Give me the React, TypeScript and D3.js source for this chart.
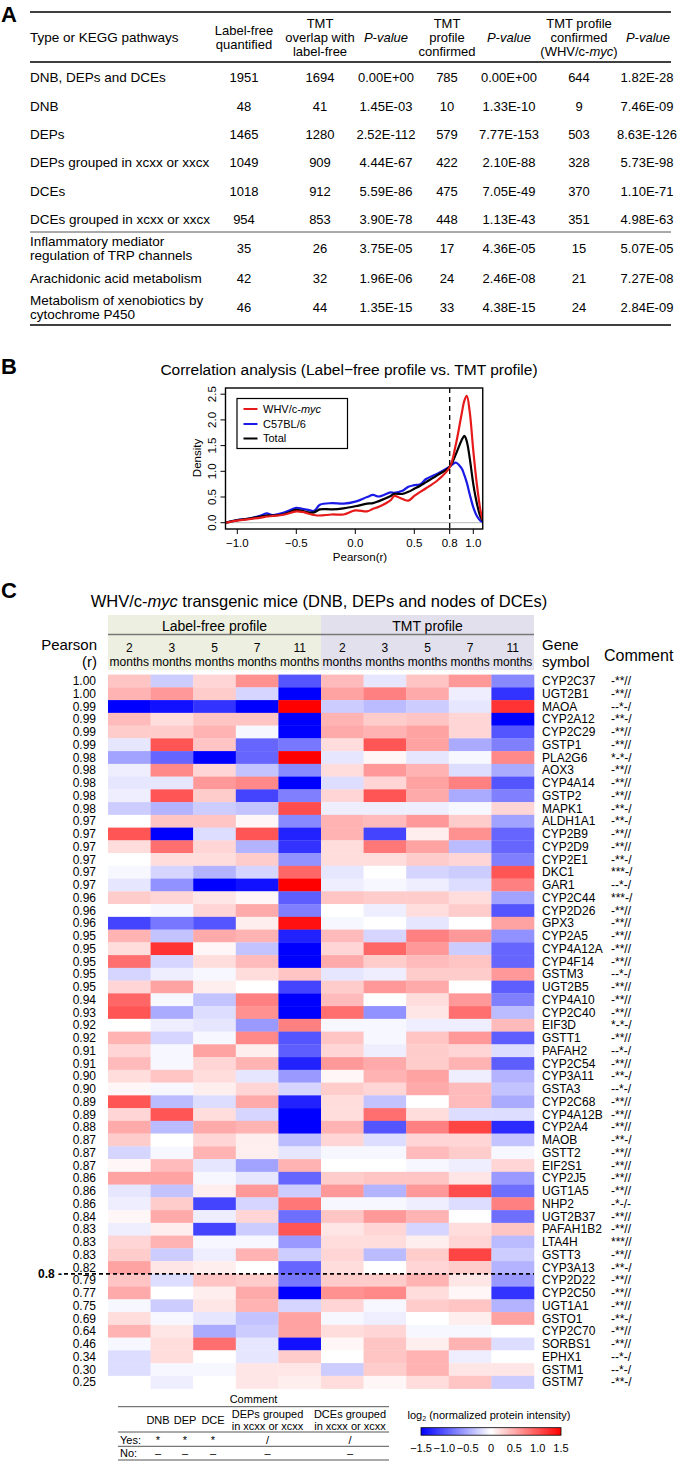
import React from 'react';
import * as d3 from 'd3';

// ---- panel A: table ----
const pathways = [
  ['DNB, DEPs and DCEs'],
  ['DNB'],
  ['DEPs'],
  ['DEPs grouped in xcxx or xxcx'],
  ['DCEs'],
  ['DCEs grouped in xcxx or xxcx'],
  ['Inflammatory mediator', 'regulation of TRP channels'],
  ['Arachidonic acid metabolism'],
  ['Metabolism of xenobiotics by', 'cytochrome P450'],
];
const labelFreeQuantified = ['1951', '48', '1465', '1049', '1018', '954', '35', '42', '46'];
const tmtOverlap = ['1694', '41', '1280', '909', '912', '853', '26', '32', '44'];
const pOverlap = ['0.00E+00', '1.45E-03', '2.52E-112', '4.44E-67', '5.59E-86', '3.90E-78', '3.75E-05', '1.96E-06', '1.35E-15'];
const tmtConfirmed = ['785', '10', '579', '422', '475', '448', '17', '24', '33'];
const pConfirmed = ['0.00E+00', '1.33E-10', '7.77E-153', '2.10E-88', '7.05E-49', '1.13E-43', '4.36E-05', '2.46E-08', '4.38E-15'];
const tmtWhv = ['644', '9', '503', '328', '370', '351', '15', '21', '24'];
const pWhv = ['1.82E-28', '7.46E-09', '8.63E-126', '5.73E-98', '1.10E-71', '4.98E-63', '5.07E-05', '7.27E-08', '2.84E-09'];

// ---- panel B: density ----
const pearsonGrid = [-1.1, -1.0, -0.9, -0.8, -0.75, -0.7, -0.6, -0.5, -0.45, -0.4, -0.35, -0.3, -0.2, -0.1, 0, 0.1, 0.15, 0.2, 0.3, 0.33, 0.4, 0.45, 0.5, 0.55, 0.6, 0.7, 0.8, 0.85, 0.9, 0.925, 0.945, 0.97, 1.0, 1.03, 1.06, 1.08];
const densityWhv = [0.0, 0.04, 0.07, 0.1, 0.12, 0.13, 0.16, 0.22, 0.21, 0.18, 0.15, 0.14, 0.16, 0.16, 0.24, 0.22, 0.27, 0.31, 0.44, 0.52, 0.46, 0.43, 0.52, 0.6, 0.67, 0.83, 1.08, 1.5, 2.1, 2.38, 2.47, 2.15, 1.4, 0.75, 0.25, 0.05];
const densityC57 = [0.0, 0.05, 0.08, 0.14, 0.18, 0.15, 0.2, 0.29, 0.27, 0.25, 0.23, 0.35, 0.38, 0.37, 0.41, 0.5, 0.54, 0.51, 0.59, 0.58, 0.62, 0.7, 0.73, 0.75, 0.85, 0.96, 1.09, 1.17, 1.06, 0.92, 0.78, 0.55, 0.3, 0.13, 0.04, 0.01];
const densityTotal = [0.0, 0.05, 0.08, 0.12, 0.14, 0.14, 0.17, 0.25, 0.23, 0.2, 0.2, 0.26, 0.26, 0.28, 0.32, 0.37, 0.38, 0.42, 0.52, 0.56, 0.56, 0.6, 0.66, 0.72, 0.79, 0.93, 1.09, 1.32, 1.6, 1.69, 1.58, 1.25, 0.75, 0.38, 0.12, 0.04];
const densityXTicks = [-1.0, -0.5, 0.0, 0.5, 0.8, 1.0];
const densityYTicks = [0, 0.5, 1.0, 1.5, 2.0, 2.5];

// ---- panel C: heatmap ----
const monthsLabels = ['2', '3', '5', '7', '11'];
const genes = ['CYP2C37', 'UGT2B1', 'MAOA', 'CYP2A12', 'CYP2C29', 'GSTP1', 'PLA2G6', 'AOX3', 'CYP4A14', 'GSTP2', 'MAPK1', 'ALDH1A1', 'CYP2B9', 'CYP2D9', 'CYP2E1', 'DKC1', 'GAR1', 'CYP2C44', 'CYP2D26', 'GPX3', 'CYP2A5', 'CYP4A12A', 'CYP4F14', 'GSTM3', 'UGT2B5', 'CYP4A10', 'CYP2C40', 'EIF3D', 'GSTT1', 'PAFAH2', 'CYP2C54', 'CYP3A11', 'GSTA3', 'CYP2C68', 'CYP4A12B', 'CYP2A4', 'MAOB', 'GSTT2', 'EIF2S1', 'CYP2J5', 'UGT1A5', 'NHP2', 'UGT2B37', 'PAFAH1B2', 'LTA4H', 'GSTT3', 'CYP3A13', 'CYP2D22', 'CYP2C50', 'UGT1A1', 'GSTO1', 'CYP2C70', 'SORBS1', 'EPHX1', 'GSTM1', 'GSTM7'];
const pearsonR = ['1.00', '1.00', '0.99', '0.99', '0.99', '0.99', '0.98', '0.98', '0.98', '0.98', '0.98', '0.97', '0.97', '0.97', '0.97', '0.97', '0.97', '0.96', '0.96', '0.96', '0.95', '0.95', '0.95', '0.95', '0.95', '0.94', '0.93', '0.92', '0.92', '0.91', '0.91', '0.90', '0.90', '0.89', '0.89', '0.88', '0.87', '0.87', '0.87', '0.86', '0.86', '0.86', '0.84', '0.83', '0.83', '0.83', '0.82', '0.79', '0.77', '0.75', '0.69', '0.64', '0.46', '0.34', '0.30', '0.25'];
const comments = ['-**//', '-**//', '--*-/', '-**-/', '-**//', '-**//', '*-*-/', '-**//', '-**//', '-**//', '-**-/', '-**-/', '-**//', '-**//', '-**-/', '***-/', '--*-/', '***-/', '-**//', '-**//', '-**//', '-**//', '-**//', '--*-/', '-**//', '-**//', '-**//', '*-*-/', '-**//', '--*-/', '-**//', '-**-/', '--*-/', '-**//', '-**//', '-**//', '-**-/', '-**//', '-**//', '-**//', '-**//', '-*-/-', '-**//', '-**//', '***//', '-**//', '-**-/', '-**//', '-**//', '-**//', '-**-/', '-**//', '-**//', '--*-/', '--*-/', '-**-/'];
// log2 normalized intensity: 5 label-free months then 5 TMT months
const intensity = [
  [0.35, -0.3, 0.25, 0.65, -1.0, 0.4, -0.15, 0.35, 0.6, -0.7],
  [0.45, 0.6, 0.3, -0.25, -1.5, 0.55, 0.75, 0.5, -0.1, -1.2],
  [-1.5, -1.4, -1.2, -1.5, 1.5, -0.3, -0.4, -0.3, -0.15, 1.2],
  [0.4, 0.2, 0.35, 0.35, -1.5, 0.45, 0.3, 0.35, 0.25, -1.5],
  [0.3, 0.3, 0.45, -0.05, -1.5, 0.5, 0.45, 0.55, 0.25, -1.0],
  [-0.15, 1.0, 0.35, -0.9, -0.8, 0.2, 1.0, 0.55, -0.5, -0.75],
  [-0.55, -0.9, -1.5, -0.9, 1.5, -0.15, 0.05, -0.15, -0.05, 0.7],
  [-0.1, 0.7, 0.25, -0.35, -0.7, 0.2, 0.6, 0.45, -0.2, -0.5],
  [-0.15, -0.15, 0.6, 0.7, -1.5, -0.2, 0.25, 0.55, 0.75, -1.0],
  [-0.1, 1.0, 0.3, -1.1, -0.75, 0.25, 1.0, 0.5, -0.5, -0.75],
  [-0.3, -0.45, -0.3, -0.35, 1.05, -0.1, -0.1, -0.1, -0.05, 0.25],
  [0.0, 0.35, 0.35, 0.05, -0.7, 0.45, 0.4, 0.6, 0.3, -0.55],
  [1.0, -1.5, -0.2, 1.0, -1.3, 0.45, -1.1, 0.1, 0.65, -0.9],
  [0.2, 0.85, 0.25, -0.45, -1.2, 0.2, 0.8, 0.55, -0.4, -0.9],
  [0.0, 0.2, 0.2, 0.3, -0.65, 0.2, 0.2, 0.3, 0.25, -0.75],
  [-0.05, -0.25, -0.45, -0.25, 0.9, -0.15, 0.0, -0.25, -0.3, 1.0],
  [-0.15, -0.65, -1.5, -1.4, 1.5, -0.1, -0.05, -0.1, -0.2, 0.75],
  [0.3, 0.25, 0.15, 0.05, -0.95, 0.35, 0.3, 0.3, 0.2, -0.55],
  [0.0, -0.05, 0.25, 0.5, -0.75, 0.0, -0.1, 0.2, 0.3, -1.0],
  [-1.1, -0.8, -1.0, 0.1, 1.4, -0.05, 0.0, -0.15, 0.0, 0.55],
  [0.45, -0.35, 0.5, 0.45, -1.3, 0.4, -0.25, 0.75, 0.6, -0.65],
  [0.2, 1.2, 0.05, -0.35, -1.5, 0.25, 0.9, 0.6, -0.3, -0.9],
  [0.85, -0.25, 0.2, 0.4, -1.5, 0.5, 0.3, 0.4, 0.35, -0.9],
  [-0.25, -0.1, -0.05, 0.2, 0.35, -0.15, -0.1, 0.3, 0.3, 0.6],
  [0.25, 0.55, 0.1, 0.0, -1.1, 0.3, 0.6, 0.5, 0.0, -0.95],
  [0.9, -0.05, -0.35, 0.75, -1.5, 0.4, 0.0, 0.2, 0.6, -0.75],
  [1.0, -0.5, -0.2, 0.65, -1.5, 0.85, -0.65, 0.15, 0.85, -0.4],
  [0.0, -0.1, -0.15, -0.6, 0.75, -0.05, -0.05, -0.1, -0.1, 0.4],
  [0.45, -0.25, -0.05, 0.7, -1.0, 0.35, -0.05, 0.35, 0.6, -0.95],
  [0.25, -0.05, 0.55, 0.1, -0.95, 0.25, -0.1, 0.3, 0.25, -0.2],
  [0.4, -0.05, 0.25, 0.45, -1.3, 0.6, 0.5, 0.3, 0.45, -0.95],
  [0.2, 0.35, 0.2, -0.15, -0.6, 0.05, 0.45, 0.55, -0.1, -0.45],
  [0.05, -0.05, 0.1, 0.25, -0.25, 0.3, 0.25, 0.5, 0.4, -0.35],
  [1.0, -0.4, -0.2, 0.5, -1.3, 0.2, -0.35, 0.0, 0.4, -0.5],
  [0.25, 1.0, 0.2, -0.25, -1.5, 0.2, 0.85, 0.2, -0.2, -0.2],
  [0.5, -0.4, 0.5, 0.45, -1.5, 0.45, -1.0, 0.75, 1.1, -1.25],
  [0.3, 0.0, 0.25, 0.1, -0.4, 0.25, -0.2, 0.25, 0.25, -0.35],
  [-0.25, -0.05, 0.45, 0.1, -0.15, -0.05, -0.05, 0.4, 0.3, -0.05],
  [0.05, 0.4, -0.15, -0.55, 0.45, 0.0, 0.0, -0.05, -0.1, 0.25],
  [0.55, 0.55, -0.05, -0.15, -0.9, 0.3, 0.35, 0.35, 0.15, -0.6],
  [-0.15, -0.35, 0.1, 0.6, -0.3, 0.6, -0.45, 0.6, 1.05, -0.85],
  [-0.1, 0.3, -1.1, -0.25, 0.8, -0.05, -0.05, -0.1, -0.2, 0.75],
  [0.05, 0.5, -0.1, 0.25, -0.85, 0.35, 0.6, 0.45, 0.0, -0.85],
  [-0.1, 0.1, -1.1, -0.3, 1.0, 0.15, 0.25, -0.25, 0.2, 0.35],
  [0.25, 0.45, -0.05, -0.05, -0.6, 0.2, 0.2, 0.1, 0.25, -0.4],
  [0.3, -0.3, -0.1, 0.45, -0.3, 0.25, -0.4, 0.3, 1.1, -0.3],
  [0.55, 0.15, 0.1, 0.0, -0.9, 0.2, 0.0, 0.25, 0.3, -0.45],
  [0.35, -0.2, 0.35, 0.3, -0.8, 0.3, 0.3, 0.45, 0.15, -0.6],
  [0.5, 0.0, 0.1, 0.5, -1.5, 0.65, 0.7, 0.2, 0.05, -1.2],
  [-0.05, -0.3, 0.15, 0.45, -0.25, 0.25, -0.05, 0.3, 0.35, -0.45],
  [0.2, -0.05, -0.15, -0.35, 0.55, -0.05, -0.1, 0.0, 0.1, 0.55],
  [0.45, 0.15, -0.5, -0.3, 0.55, 0.2, 0.25, -0.05, -0.05, 0.0],
  [-0.05, 0.2, 0.85, -0.15, -1.4, 0.05, 0.35, 0.1, 0.45, -0.2],
  [-0.2, 0.2, 0.0, -0.15, 0.3, 0.0, 0.35, 0.45, -0.1, 0.0],
  [-0.2, -0.05, -0.05, 0.15, 0.15, -0.3, 0.3, 0.45, 0.15, 0.15],
  [0.0, -0.1, 0.0, 0.15, 0.1, 0.2, 0.05, 0.2, 0.35, -0.3],
];
const colorTicks = [-1.5, -1.0, -0.5, 0, 0.5, 1.0, 1.5];
const commentCols = ['DNB', 'DEP', 'DCE'];

const FONT = 'Liberation Sans, Arial, Helvetica, sans-serif';
const fmtTick = (v: number) => (v < 0 ? '\u2212' : '') + Math.abs(v).toFixed(1);

function TableA() {
  const colX = [244, 320, 386, 447, 509, 579, 647];
  const rowY = [77, 106, 134, 162, 191, 219, 248, 278, 307];
  const cols = [labelFreeQuantified, tmtOverlap, pOverlap, tmtConfirmed, pConfirmed, tmtWhv, pWhv];
  const L = 30, R = 671;
  return (
    <g fontSize={13}>
      <text x={1} y={22} fontSize={22} fontWeight="bold">A</text>
      <line x1={L} x2={R} y1={12} y2={12} stroke="#000" strokeWidth={1.6} />
      <text x={L} y={37} dy="0.35em" fontSize={13.5}>Type or KEGG pathways</text>
      <text x={colX[0]} textAnchor="middle">
        <tspan x={colX[0]} y={30} dy="0.35em">Label-free</tspan>
        <tspan x={colX[0]} y={44} dy="0.35em">quantified</tspan>
      </text>
      <text textAnchor="middle">
        <tspan x={colX[1]} y={23} dy="0.35em">TMT</tspan>
        <tspan x={colX[1]} y={37} dy="0.35em">overlap with</tspan>
        <tspan x={colX[1]} y={51} dy="0.35em">label-free</tspan>
      </text>
      {[colX[2], colX[4], colX[6]].map((x, i) => (
        <text key={i} x={x + (i === 2 ? 1 : 0)} y={37} dy="0.35em" textAnchor="middle" fontStyle="italic">P-value</text>
      ))}
      <text textAnchor="middle">
        <tspan x={colX[3]} y={23} dy="0.35em">TMT</tspan>
        <tspan x={colX[3]} y={37} dy="0.35em">profile</tspan>
        <tspan x={colX[3]} y={51} dy="0.35em">confirmed</tspan>
      </text>
      <text textAnchor="middle">
        <tspan x={colX[5]} y={23} dy="0.35em">TMT profile</tspan>
        <tspan x={colX[5]} y={37} dy="0.35em">confirmed</tspan>
      </text>
      <text x={colX[5]} y={51} dy="0.35em" textAnchor="middle">
        (WHV/c-<tspan fontStyle="italic">myc</tspan>)
      </text>
      <line x1={L} x2={R} y1={62} y2={62} stroke="#000" strokeWidth={1.3} />
      {pathways.map((p, i) => (
        <g key={i}>
          {p.length === 1 ? (
            <text x={L} y={rowY[i]} dy="0.35em" fontSize={13.5}>{p[0]}</text>
          ) : (
            <text fontSize={13.5}>
              <tspan x={L} y={rowY[i] - 7} dy="0.35em">{p[0]}</tspan>
              <tspan x={L} y={rowY[i] + 7} dy="0.35em">{p[1]}</tspan>
            </text>
          )}
          {cols.map((c, j) => (
            <text key={j} x={colX[j]} y={rowY[i]} dy="0.35em" textAnchor="middle">{c[i]}</text>
          ))}
        </g>
      ))}
      <line x1={L} x2={R} y1={232} y2={232} stroke="#555" strokeWidth={1} />
      <line x1={L} x2={R} y1={325} y2={325} stroke="#000" strokeWidth={1.5} />
    </g>
  );
}

function DensityB() {
  const x = d3.scaleLinear().domain([-1.0, 1.0]).range([237.3, 473.3]);
  const y = d3.scaleLinear().domain([0, 2.5]).range([522.7, 394.2]);
  const box = { x0: x(-1.1), x1: x(1.08), y0: 388, y1: 529 };
  const line = d3
    .line<number>()
    .x((_, i) => x(pearsonGrid[i]))
    .y((d) => y(d))
    .curve(d3.curveCatmullRom.alpha(0.5));
  const series = [
    { name: 'C57BL/6', vals: densityC57, color: '#1a1ae6' },
    { name: 'Total', vals: densityTotal, color: '#000' },
    { name: 'WHV', vals: densityWhv, color: '#e61a1a' },
  ];
  return (
    <g fontSize={11.5}>
      <text x={1} y={374} fontSize={22} fontWeight="bold">B</text>
      <text x={349} y={370} dy="0.35em" textAnchor="middle" fontSize={15.5}>
        Correlation analysis (Label{'\u2212'}free profile vs. TMT profile)
      </text>
      <defs>
        <clipPath id="dclip">
          <rect x={box.x0} y={box.y0} width={box.x1 - box.x0} height={box.y1 - box.y0} />
        </clipPath>
      </defs>
      <line x1={box.x0} x2={box.x1} y1={y(0)} y2={y(0)} stroke="#bbb" strokeWidth={1} />
      <g clipPath="url(#dclip)">
        {series.map((s) => (
          <path key={s.name} d={line(s.vals) || ''} fill="none" stroke={s.color} strokeWidth={2.2} />
        ))}
      </g>
      <line x1={x(0.8)} x2={x(0.8)} y1={box.y0} y2={box.y1} stroke="#000" strokeWidth={1.3} strokeDasharray="5,4" />
      <rect x={box.x0} y={box.y0} width={box.x1 - box.x0} height={box.y1 - box.y0} fill="none" stroke="#000" strokeWidth={1.4} />
      {densityXTicks.map((t) => (
        <g key={t}>
          <line x1={x(t)} x2={x(t)} y1={box.y1} y2={box.y1 + 5} stroke="#000" />
          <text x={x(t)} y={543} dy="0.35em" textAnchor="middle">{fmtTick(t)}</text>
        </g>
      ))}
      {densityYTicks.map((t) => (
        <g key={t}>
          <line x1={box.x0 - 5} x2={box.x0} y1={y(t)} y2={y(t)} stroke="#000" />
          <text transform={`translate(212,${y(t)}) rotate(-90)`} dy="0.35em" textAnchor="middle">{t.toFixed(1)}</text>
        </g>
      ))}
      <text x={360} y={557} dy="0.35em" textAnchor="middle">Pearson(r)</text>
      <text transform="translate(197,458) rotate(-90)" dy="0.35em" textAnchor="middle">Density</text>
      <rect x={237} y={398.5} width={110.5} height={50} fill="#fff" stroke="#000" strokeWidth={1.2} />
      {[
        { c: '#e61a1a', y: 409 },
        { c: '#1a1ae6', y: 424 },
        { c: '#000', y: 438.5 },
      ].map((e, i) => (
        <g key={i}>
          <line x1={243.5} x2={257.5} y1={e.y} y2={e.y} stroke={e.c} strokeWidth={2} />
          <text x={263} y={e.y} dy="0.35em" fontSize={11}>
            {i === 0 ? (
              <>
                WHV/c-<tspan fontStyle="italic">myc</tspan>
              </>
            ) : i === 1 ? 'C57BL/6' : 'Total'}
          </text>
        </g>
      ))}
    </g>
  );
}

function HeatmapC() {
  const left = 108, right = 534, top = 674.6, rowH = 12.75;
  const x = d3.scaleBand<number>().domain(d3.range(10)).range([left, right]);
  const y = d3.scaleBand<string>().domain(genes).range([top, top + rowH * genes.length]);
  const color = d3
    .scaleLinear<string>()
    .domain([-1.5, 0, 1.5])
    .range(['#0000ff', '#ffffff', '#ff0000'])
    .clamp(true);
  const mid = (left + right) / 2;
  const cutY = y('CYP2D22') as number;
  const cbX = d3.scaleLinear().domain([-1.5, 1.5]).range([421, 561]);
  const legX = [158, 185, 213, 267.5, 350];
  return (
    <g>
      <text x={1} y={598} fontSize={22} fontWeight="bold">C</text>
      <text x={319} y={601} dy="0.35em" textAnchor="middle" fontSize={16.5}>
        WHV/c-<tspan fontStyle="italic">myc</tspan> transgenic mice (DNB, DEPs and nodes of DCEs)
      </text>
      <rect x={left} y={615} width={mid - left} height={55} fill="#edf0e1" />
      <rect x={mid} y={615} width={right - mid} height={55} fill="#e3e0ed" />
      <text x={(left + mid) / 2} y={626} dy="0.35em" textAnchor="middle" fontSize={14}>Label-free profile</text>
      <text x={(mid + right) / 2} y={626} dy="0.35em" textAnchor="middle" fontSize={14}>TMT profile</text>
      <line x1={left} x2={right} y1={634.5} y2={634.5} stroke="#777" strokeWidth={1.5} />
      {d3.range(10).map((i) => (
        <text key={i} textAnchor="middle" fontSize={12}>
          <tspan x={(x(i) as number) + x.bandwidth() / 2} y={648} dy="0.35em">{monthsLabels[i % 5]}</tspan>
          <tspan x={(x(i) as number) + x.bandwidth() / 2} y={662} dy="0.35em">months</tspan>
        </text>
      ))}
      <text textAnchor="end" fontSize={15}>
        <tspan x={97} y={645} dy="0.35em">Pearson</tspan>
        <tspan x={97} y={662} dy="0.35em">(r)</tspan>
      </text>
      <text fontSize={15}>
        <tspan x={542} y={645} dy="0.35em">Gene</tspan>
        <tspan x={542} y={662} dy="0.35em">symbol</tspan>
      </text>
      <text x={604} y={655} dy="0.35em" fontSize={16}>Comment</text>
      {intensity.map((row, r) =>
        row.map((v, c) => (
          <rect
            key={`${r}-${c}`}
            x={x(c)}
            y={y(genes[r])}
            width={x.bandwidth() + 0.3}
            height={y.bandwidth() + 0.3}
            fill={color(v)}
          />
        ))
      )}
      {genes.map((g, r) => {
        const cy = (y(g) as number) + y.bandwidth() / 2;
        return (
          <g key={g} fontSize={12}>
            <text x={96} y={cy} dy="0.35em" textAnchor="end">{pearsonR[r]}</text>
            <text x={542} y={cy} dy="0.35em">{g}</text>
            <text x={611} y={cy} dy="0.35em">{comments[r]}</text>
          </g>
        );
      })}
      <text x={62} y={cutY} dy="0.35em" textAnchor="end" fontSize={12} fontWeight="bold">0.8 -</text>
      <line x1={64} x2={right} y1={cutY} y2={cutY} stroke="#000" strokeWidth={1.6} strokeDasharray="4,3" />

      {/* comment legend */}
      <g fontSize={11}>
        <text x={253.5} y={1399} dy="0.35em" textAnchor="middle">Comment</text>
        <line x1={118} x2={389} y1={1406.7} y2={1406.7} stroke="#555" strokeWidth={1} />
        {commentCols.map((c, i) => (
          <text key={c} x={legX[i]} y={1420} dy="0.35em" textAnchor="middle">{c}</text>
        ))}
        <text textAnchor="middle">
          <tspan x={legX[3]} y={1414} dy="0.35em">DEPs grouped</tspan>
          <tspan x={legX[3]} y={1426} dy="0.35em">in xcxx or xcxx</tspan>
        </text>
        <text textAnchor="middle">
          <tspan x={legX[4]} y={1414} dy="0.35em">DCEs grouped</tspan>
          <tspan x={legX[4]} y={1426} dy="0.35em">in xcxx or xcxx</tspan>
        </text>
        <line x1={118} x2={389} y1={1432} y2={1432} stroke="#555" strokeWidth={1} />
        <text x={120} y={1440.5} dy="0.35em">Yes:</text>
        {legX.map((lx, i) => (
          <text key={i} x={lx} y={1440.5} dy="0.35em" textAnchor="middle">{i < 3 ? '*' : '/'}</text>
        ))}
        <line x1={118} x2={389} y1={1446.3} y2={1446.3} stroke="#555" strokeWidth={1} />
        <text x={120} y={1453.3} dy="0.35em">No:</text>
        {legX.map((lx, i) => (
          <text key={i} x={lx} y={1453.3} dy="0.35em" textAnchor="middle">{'\u2013'}</text>
        ))}
        <line x1={118} x2={389} y1={1460} y2={1460} stroke="#555" strokeWidth={1} />
      </g>

      {/* colour bar */}
      <defs>
        <linearGradient id="cbar" x1="0" x2="1" y1="0" y2="0">
          <stop offset="0" stopColor="#0000ff" />
          <stop offset="0.5" stopColor="#ffffff" />
          <stop offset="1" stopColor="#ff0000" />
        </linearGradient>
      </defs>
      <text x={489} y={1415} dy="0.35em" textAnchor="middle" fontSize={11}>
        log<tspan fontSize={7} dy="2">2</tspan>
        <tspan dy="-2"> (normalized protein intensity)</tspan>
      </text>
      <rect x={cbX(-1.5)} y={1427.7} width={cbX(1.5) - cbX(-1.5)} height={7.5} fill="url(#cbar)" stroke="#000" strokeWidth={0.8} />
      {colorTicks.map((t) => (
        <text key={t} x={cbX(t)} y={1448} dy="0.35em" textAnchor="middle" fontSize={11}>
          {t === 0 ? '0' : fmtTick(t)}
        </text>
      ))}
    </g>
  );
}

export default function App() {
  return (
    <svg
      width={677}
      height={1462}
      viewBox="0 0 677 1462"
      style={{ position: 'absolute', left: 0, top: 0, background: '#fff' }}
      fontFamily={FONT}
    >
      <rect width={677} height={1462} fill="#fff" />
      <TableA />
      <DensityB />
      <HeatmapC />
    </svg>
  );
}
